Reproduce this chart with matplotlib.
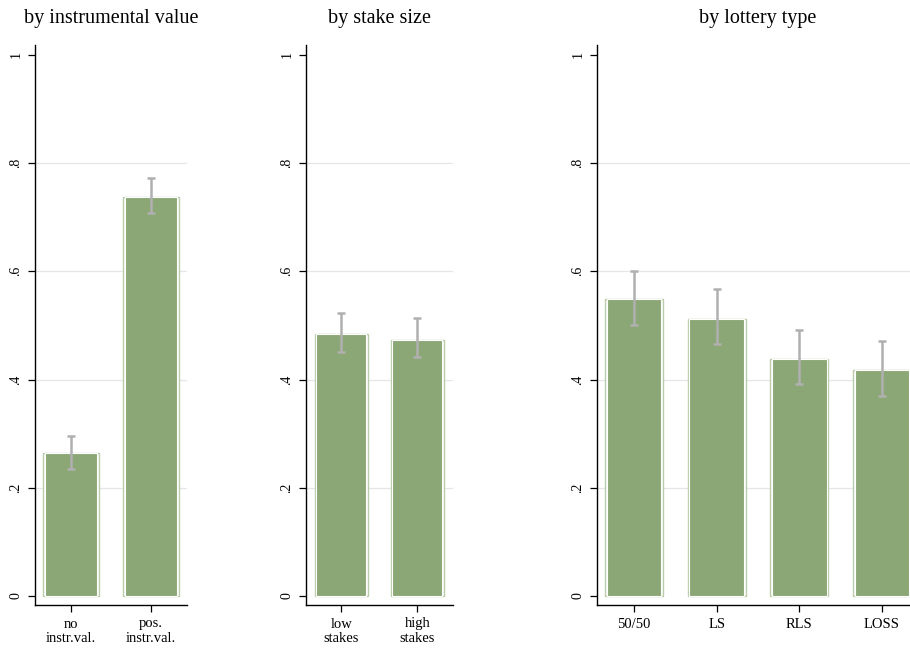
import matplotlib
matplotlib.use("Agg")
import matplotlib.pyplot as plt

plt.rcParams["font.family"] = ["Liberation Serif", "DejaVu Serif"]

# share of subjects, by subgroup, with 95% confidence bounds
instr_labels = ["no\ninstr.val.", "pos.\ninstr.val."]
instr_mean = [0.264, 0.737]
instr_lo = [0.235, 0.708]
instr_hi = [0.296, 0.773]

stake_labels = ["low\nstakes", "high\nstakes"]
stake_mean = [0.484, 0.473]
stake_lo = [0.451, 0.441]
stake_hi = [0.522, 0.513]

lottery_labels = ["50/50", "LS", "RLS", "LOSS"]
lottery_mean = [0.548, 0.512, 0.438, 0.417]
lottery_lo = [0.500, 0.465, 0.391, 0.370]
lottery_hi = [0.601, 0.567, 0.492, 0.471]

titles = ["by instrumental value", "by stake size", "by lottery type"]

BAR = "#8ca776"
EDGE = "#b9cdaa"
ERR = "#b0b0b0"
GRID = "#e6e6e6"

fig = plt.figure(figsize=(9.1, 6.48), dpi=100)
W, H = 910, 648

panels = [
    (35, 187, (-0.456, 1.456), instr_labels, instr_mean, instr_lo, instr_hi),
    (306, 453, (-0.464, 1.47), stake_labels, stake_mean, stake_lo, stake_hi),
    (597, 919, (-0.45, 3.45), lottery_labels, lottery_mean, lottery_lo, lottery_hi),
]

for (x0, x1, xlim, labels, mean, lo, hi), title in zip(panels, titles):
    ax = fig.add_axes([x0 / W, (H - 605) / H, (x1 - x0) / W, (605 - 45) / H])
    pos = list(range(len(labels)))
    for y in [0.2, 0.4, 0.6, 0.8]:
        ax.axhline(y, color=GRID, lw=0.9, zorder=0)
    ax.bar(pos, mean, width=0.7, color="white", edgecolor=EDGE, linewidth=1.0, zorder=2)
    ax.bar(pos, mean, width=0.66, color=BAR, edgecolor="white", linewidth=0.8, zorder=3)
    yerr = [[m - l for m, l in zip(mean, lo)], [h - m for m, h in zip(mean, hi)]]
    ax.errorbar(pos, mean, yerr=yerr, fmt="none", ecolor=ERR, elinewidth=1.8,
                capsize=3, capthick=1.8, zorder=4)
    ax.set_xlim(*xlim)
    ax.set_ylim(-0.0166, 1.018)
    ax.set_yticks([0, 0.2, 0.4, 0.6, 0.8, 1])
    ax.set_yticklabels(["0", ".2", ".4", ".6", ".8", "1"], rotation=90,
                       va="center", fontsize=10)
    ax.set_xticks(pos)
    ax.set_xticklabels(labels, fontsize=10.5, linespacing=1.1)
    ax.tick_params(axis="both", length=5, width=0.9, color="black", pad=4)
    ax.spines["top"].set_visible(False)
    ax.spines["right"].set_visible(False)
    for s in ["left", "bottom"]:
        ax.spines[s].set_linewidth(1.0)
    ax.set_facecolor("white")
    fig.text((x0 + x1) / 2 / W, 1 - 19 / H, title, ha="center", va="center", fontsize=14.5)

fig.savefig("out.png", dpi=100, facecolor="white")
